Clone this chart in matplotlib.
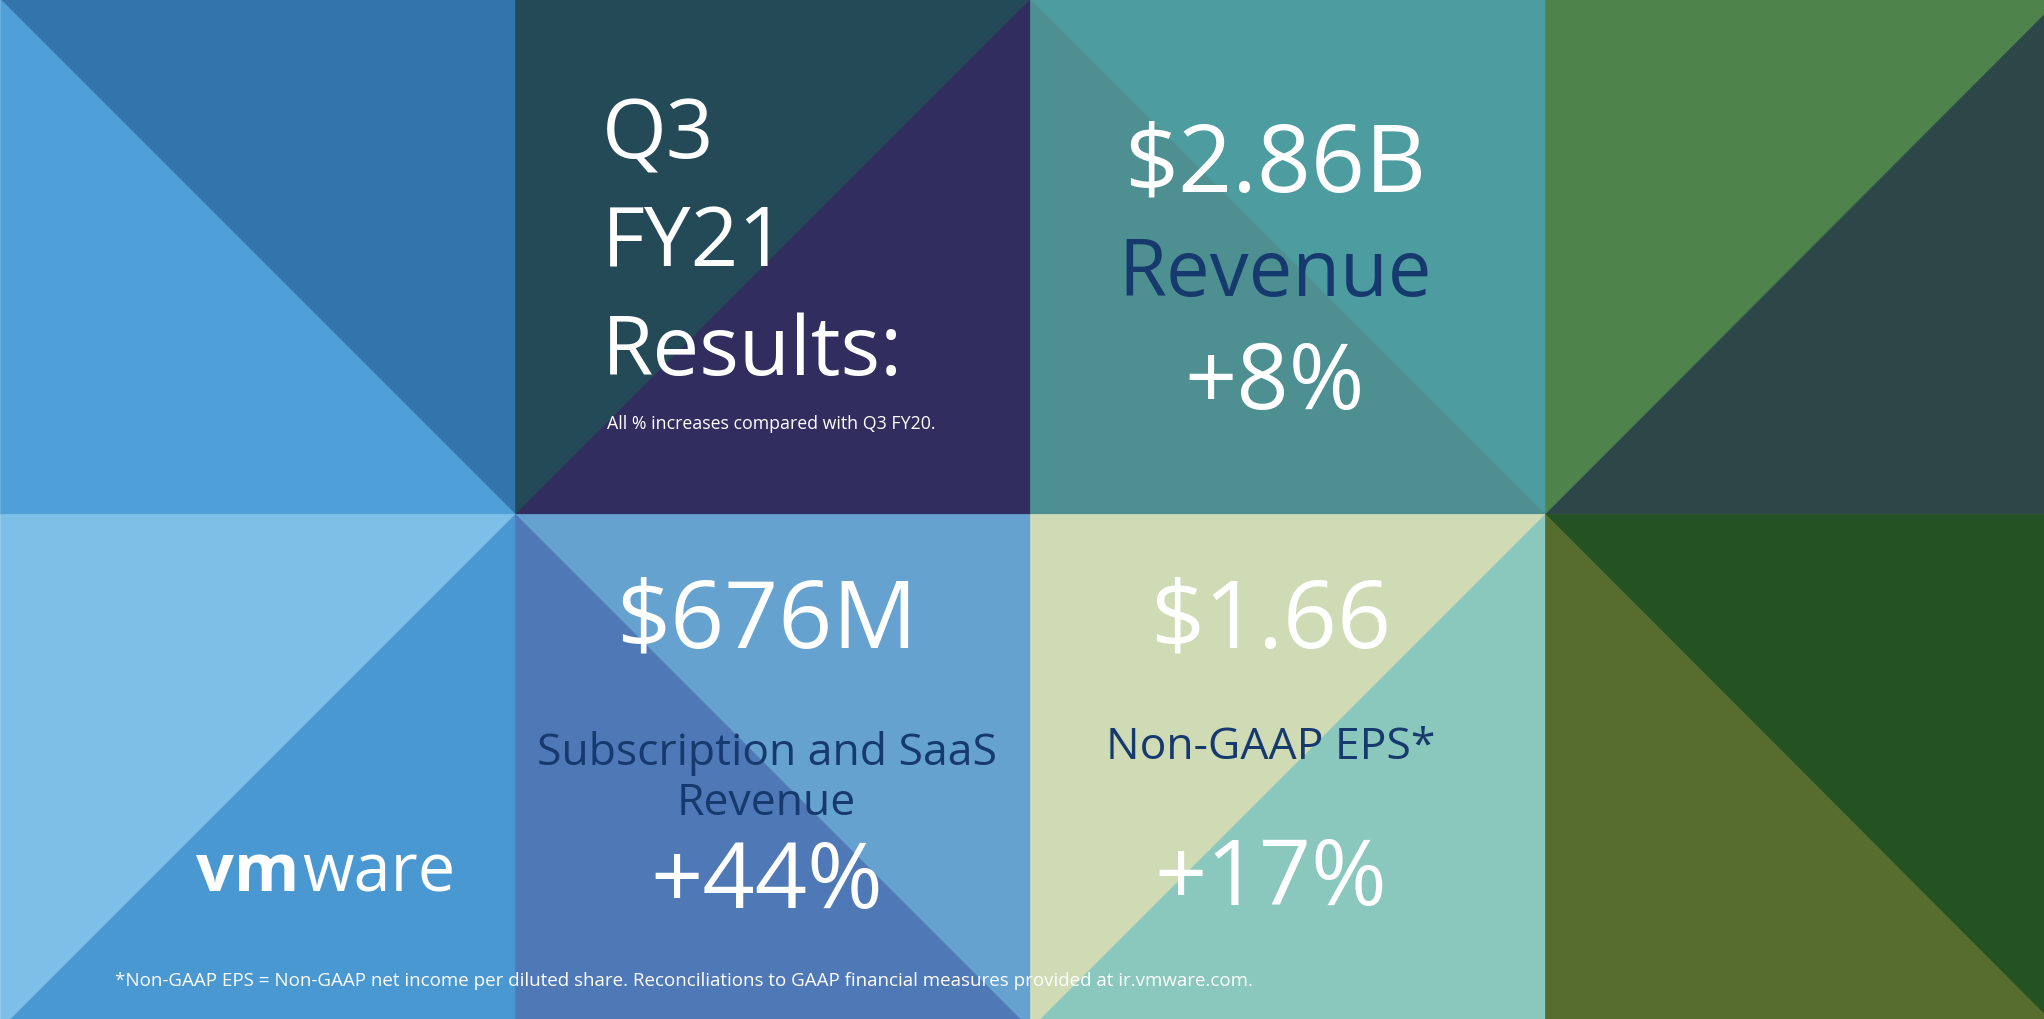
import matplotlib.pyplot as plt
from matplotlib.patches import Polygon

# tile colours: (col, row, diagonal, colour_a, colour_b)
# diagonal "down" = top-left to bottom-right, a = upper-right, b = lower-left
# diagonal "up" = bottom-left to top-right, a = upper-left, b = lower-right
tiles = [
    (0, 0, "down", "#3374AC", "#4FA0D8"),
    (1, 0, "up", "#244A57", "#312D5E"),
    (2, 0, "down", "#4C9CA0", "#4E9092"),
    (3, 0, "up", "#4E834B", "#2D4748"),
    (0, 1, "up", "#7EBFE8", "#4A98D2"),
    (1, 1, "down", "#66A2D0", "#4E78B6"),
    (2, 1, "up", "#CEDBB5", "#8AC7BC"),
    (3, 1, "down", "#245222", "#576D2D"),
]

headline = ["Q3", "FY21", "Results:"]
note = "All % increases compared with Q3 FY20."
metrics = ["$2.86B", "$676M", "$1.66"]
labels = ["Revenue", "Subscription and SaaS\nRevenue", "Non-GAAP EPS*"]
growth = ["+8%", "+44%", "+17%"]
footnote = ("*Non-GAAP EPS = Non-GAAP net income per diluted share. "
            "Reconciliations to GAAP financial measures provided at ir.vmware.com.")

plt.rcParams["font.family"] = ["Open Sans", "DejaVu Sans"]
fig = plt.figure(figsize=(20.44, 10.2), dpi=100)
ax = fig.add_axes([0, 0, 1, 1])
ax.set_xlim(0, 3.97)
ax.set_ylim(1.98, 0)
ax.axis("off")

for c, r, d, ca, cb in tiles:
    tl, tr, bl, br = (c, r), (c + 1, r), (c, r + 1), (c + 1, r + 1)
    if d == "down":
        pa, pb = [tl, tr, br], [tl, bl, br]
    else:
        pa, pb = [bl, tl, tr], [bl, br, tr]
    ax.add_patch(Polygon(pa, closed=True, facecolor=ca, edgecolor=ca, lw=0.5))
    ax.add_patch(Polygon(pb, closed=True, facecolor=cb, edgecolor=cb, lw=0.5))

white = "white"
navy = "#173A6E"

for i, t in enumerate(headline):
    fig.text(462 / 1568, 1 - (105 + i * 83) / 782, t, color=white, fontsize=60,
             va="center", ha="left")
fig.text(466 / 1568, 1 - 325 / 782, note, color=white, fontsize=12.8, va="center")

# metric blocks: x centre, metric y, label y, growth y (display px of the reference)
blocks = [(978, 128, 211, 295), (588, 478, 597, 678), (975, 478, 573, 676)]
for (x, ym, yl, yg), m, l, g in zip(blocks, metrics, labels, growth):
    fig.text(x / 1568, 1 - ym / 782, m, color=white, fontsize=68, ha="center", va="center")
    fs = 56 if l == "Revenue" else 32
    fig.text(x / 1568, 1 - yl / 782, l, color=navy, fontsize=fs, ha="center",
             va="center", linespacing=1.15)
    fig.text(x / 1568, 1 - yg / 782, g, color=white, fontsize=66, ha="center", va="center")

fig.text(150 / 1568, 1 - 670 / 782, "vm", color=white, fontsize=48, fontweight="bold",
         va="center", ha="left")
fig.text(232 / 1568, 1 - 670 / 782, "ware", color=white, fontsize=48, va="center", ha="left")

fig.text(88 / 1568, 1 - 752 / 782, footnote, color=white, fontsize=13.5, va="center")

fig.savefig("out.png", dpi=100)
